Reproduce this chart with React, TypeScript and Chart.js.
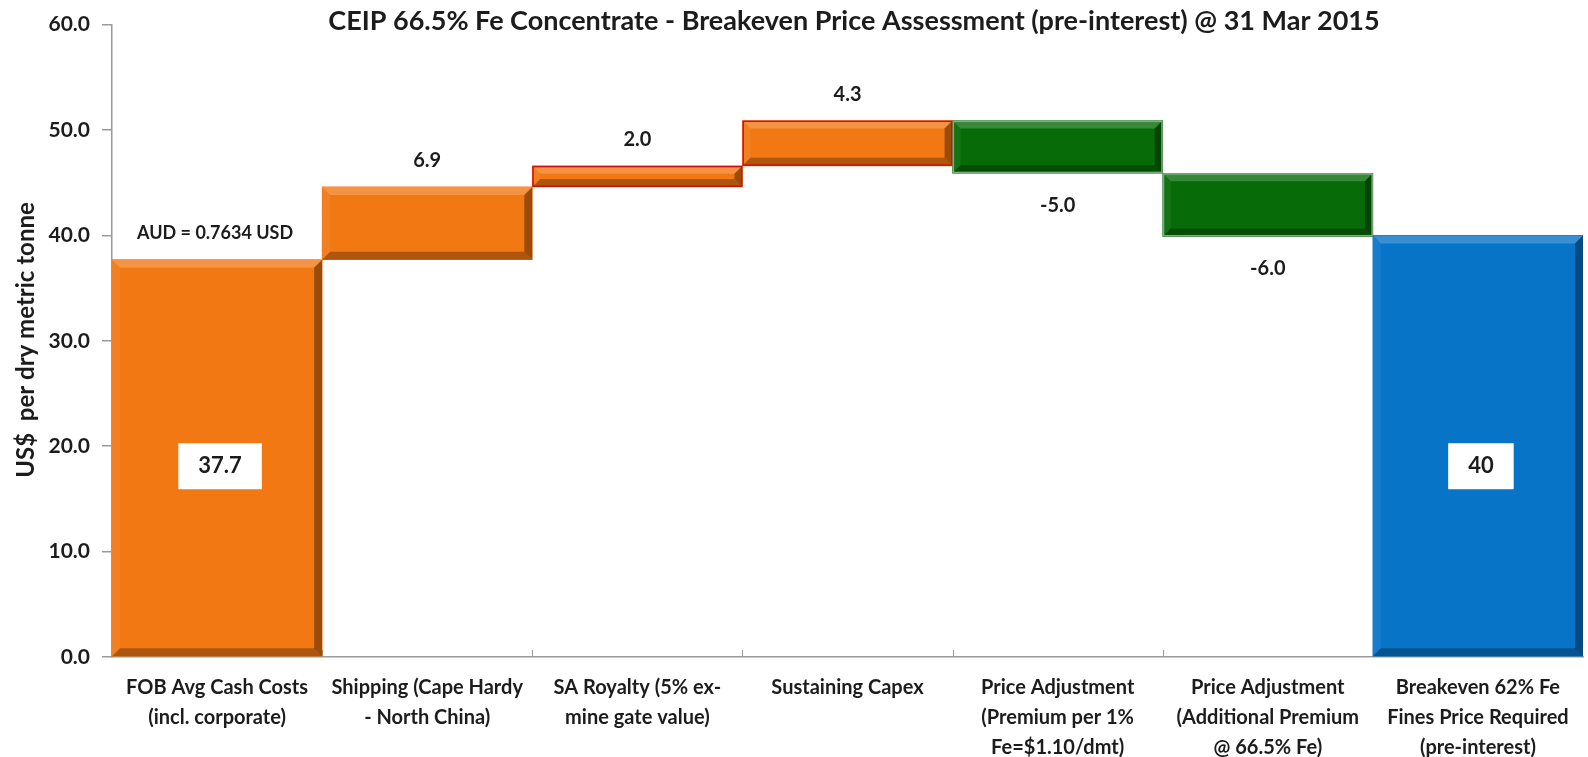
import React, { useEffect, useRef } from "react";
import { Chart, registerables } from "chart.js";

Chart.register(...registerables);

const TITLE = "CEIP 66.5% Fe Concentrate - Breakeven Price Assessment (pre-interest) @ 31 Mar 2015";
const Y_TITLE = "US$  per dry metric tonne";
const NOTE = "AUD = 0.7634 USD";

const categories: string[][] = [
  ["FOB Avg Cash Costs", "(incl. corporate)"],
  ["Shipping (Cape Hardy", "- North China)"],
  ["SA Royalty (5% ex-", "mine gate value)"],
  ["Sustaining Capex"],
  ["Price Adjustment", "(Premium per 1%", "Fe=$1.10/dmt)"],
  ["Price Adjustment", "(Additional Premium", "@ 66.5% Fe)"],
  ["Breakeven 62% Fe", "Fines Price Required", "(pre-interest)"],
];

const barStart = [0, 37.7, 44.6, 46.6, 50.9, 45.9, 0];
const barEnd = [37.7, 44.6, 46.6, 50.9, 45.9, 39.9, 40];
const valueLabels = ["37.7", "6.9", "2.0", "4.3", "-5.0", "-6.0", "40"];
const barColors = ["#F27814", "#F27814", "#F27814", "#F27814", "#076B08", "#076B08", "#0874C8"];
const barOutline = ["", "", "#D01010", "#D01010", "#7FB07F", "#7FB07F", ""];

const Y_MIN = 0;
const Y_MAX = 60;
const Y_STEP = 10;
const BOX_LABEL_VALUE = 18.1;

const FONT = "Lato, 'Open Sans', sans-serif";
const TEXT = "#1c1c1c";
const AXIS = "#9a9a9a";

const bevelPlugin = {
  id: "bevel",
  afterDatasetsDraw(chart: any) {
    const ctx = chart.ctx as CanvasRenderingContext2D;
    const meta = chart.getDatasetMeta(0);
    meta.data.forEach((el: any, i: number) => {
      const p = el.getProps(["x", "y", "base", "width"], true);
      const l = p.x - p.width / 2;
      const r = p.x + p.width / 2;
      const t = Math.min(p.y, p.base);
      const b = Math.max(p.y, p.base);
      const h = b - t;
      const bv = Math.min(8, h / 2.6, p.width / 2.6);
      const poly = (pts: number[][], fill: string) => {
        ctx.beginPath();
        ctx.moveTo(pts[0][0], pts[0][1]);
        for (let k = 1; k < pts.length; k++) ctx.lineTo(pts[k][0], pts[k][1]);
        ctx.closePath();
        ctx.fillStyle = fill;
        ctx.fill();
      };
      ctx.save();
      poly([[l, t], [r, t], [r - bv, t + bv], [l + bv, t + bv]], "rgba(255,255,255,0.2)");
      poly([[l, t], [l + bv, t + bv], [l + bv, b - bv], [l, b]], "rgba(255,255,255,0.06)");
      poly([[r, t], [r, b], [r - bv, b - bv], [r - bv, t + bv]], "rgba(0,0,0,0.36)");
      poly([[l, b], [r, b], [r - bv, b - bv], [l + bv, b - bv]], "rgba(0,0,0,0.28)");
      if (barOutline[i]) {
        ctx.strokeStyle = barOutline[i];
        ctx.lineWidth = 1.5;
        ctx.strokeRect(l + 0.75, t + 0.75, p.width - 1.5, h - 1.5);
      }
      ctx.restore();
    });
  },
};

const xTickPlugin = {
  id: "xticks",
  beforeDatasetsDraw(chart: any) {
    const ctx = chart.ctx as CanvasRenderingContext2D;
    const xs = chart.scales.x;
    const bottom = chart.chartArea.bottom;
    ctx.save();
    ctx.strokeStyle = AXIS;
    ctx.lineWidth = 1;
    for (let i = 1; i < categories.length; i++) {
      const x = (xs.getPixelForValue(i - 1) + xs.getPixelForValue(i)) / 2;
      ctx.beginPath();
      ctx.moveTo(Math.round(x) + 0.5, bottom);
      ctx.lineTo(Math.round(x) + 0.5, bottom - 7);
      ctx.stroke();
    }
    ctx.restore();
  },
};

const labelsPlugin = {
  id: "labels",
  afterDraw(chart: any) {
    const ctx = chart.ctx as CanvasRenderingContext2D;
    const xs = chart.scales.x;
    const ys = chart.scales.y;
    ctx.save();
    ctx.fillStyle = TEXT;
    ctx.textAlign = "center";
    ctx.textBaseline = "middle";

    // title
    ctx.font = `bold 27px ${FONT}`;
    ctx.fillText(TITLE, 854, 21);

    // y title
    ctx.save();
    ctx.translate(26, 340);
    ctx.rotate(-Math.PI / 2);
    ctx.font = `bold 24px ${FONT}`;
    ctx.fillText(Y_TITLE, 0, 0);
    ctx.restore();

    // note
    ctx.font = `bold 18px ${FONT}`;
    ctx.fillText(NOTE, xs.getPixelForValue(0) - 2, 233);

    const last = valueLabels.length - 1;
    valueLabels.forEach((txt, i) => {
      const x = xs.getPixelForValue(i);
      if (i === 0 || i === last) {
        ctx.font = `bold 22px ${FONT}`;
        const w = ctx.measureText(txt).width + 40;
        const hgt = 46;
        const cy = ys.getPixelForValue(BOX_LABEL_VALUE);
        ctx.fillStyle = "#ffffff";
        ctx.fillRect(x + 3 - w / 2, cy - hgt / 2, w, hgt);
        ctx.fillStyle = TEXT;
        ctx.fillText(txt, x + 3, cy);
      } else {
        ctx.font = `bold 20px ${FONT}`;
        const top = ys.getPixelForValue(Math.max(barStart[i], barEnd[i]));
        const bot = ys.getPixelForValue(Math.min(barStart[i], barEnd[i]));
        if (barEnd[i] >= barStart[i]) ctx.fillText(txt, x, top - 26);
        else ctx.fillText(txt, x, bot + 32);
      }
    });
    ctx.restore();
  },
};

export default function App() {
  const ref = useRef<HTMLCanvasElement | null>(null);

  useEffect(() => {
    if (!ref.current) return;
    const chart = new Chart(ref.current, {
      type: "bar",
      data: {
        labels: categories,
        datasets: [
          {
            data: barStart.map((s, i) => [s, barEnd[i]]) as any,
            backgroundColor: barColors,
            borderWidth: 0,
            barPercentage: 1,
            categoryPercentage: 1,
          },
        ],
      },
      options: {
        responsive: false,
        animation: false,
        devicePixelRatio: 1,
        layout: { padding: { top: 23, right: 5, left: 0, bottom: 0 } },
        plugins: {
          legend: { display: false },
          tooltip: { enabled: false },
          title: { display: false },
        },
        scales: {
          x: {
            grid: { drawOnChartArea: false, drawTicks: false },
            border: { color: AXIS, width: 1.5 },
            ticks: {
              color: TEXT,
              font: { family: FONT, size: 20, weight: "bold", lineHeight: 1.5 },
              padding: 16,
              maxRotation: 0,
              autoSkip: false,
            },
            afterFit: (s: any) => {
              s.height = 100;
            },
          },
          y: {
            min: Y_MIN,
            max: Y_MAX,
            ticks: {
              stepSize: Y_STEP,
              color: TEXT,
              font: { family: FONT, size: 21, weight: "bold" },
              padding: 12,
              callback: (v: any) => Number(v).toFixed(1),
            },
            grid: { drawOnChartArea: false, tickLength: 10, color: AXIS, lineWidth: 1.5 },
            border: { color: AXIS, width: 1.5 },
            afterFit: (s: any) => {
              s.width = 112;
            },
          },
        },
      },
      plugins: [xTickPlugin, bevelPlugin, labelsPlugin],
    });
    return () => chart.destroy();
  }, []);

  return (
    <div style={{ position: "absolute", left: 0, top: 0, width: 1588, height: 757, background: "#fff" }}>
      <canvas ref={ref} width={1588} height={757} />
    </div>
  );
}
